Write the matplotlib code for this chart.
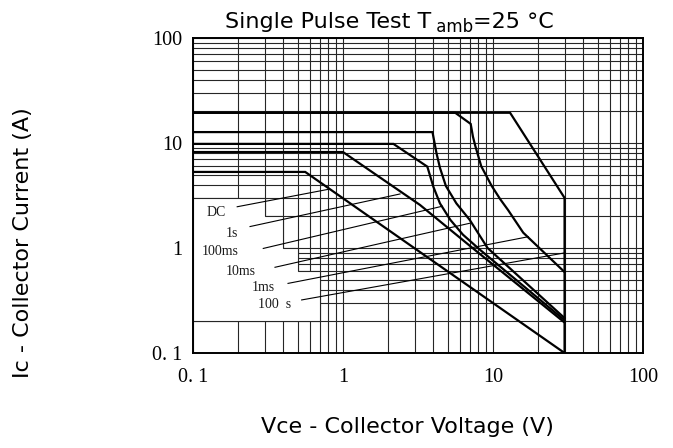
import matplotlib
matplotlib.use("Agg")
import matplotlib.pyplot as plt
from matplotlib.patches import Polygon
from matplotlib.ticker import NullFormatter

# Curvas SOA (Vce en V, Ic en A)
dc_v = [0.1, 0.56, 30]
dc_i = [5.3, 5.3, 0.1]

s1_v = [0.1, 1.0, 3.26, 7.3, 30]
s1_i = [8.2, 8.2, 2.57, 1.0, 0.195]

ms100_v = [0.1, 2.17, 3.65, 4.0, 4.43, 5.2, 6.3, 8.2, 30]
ms100_i = [9.8, 9.8, 5.95, 3.84, 2.66, 1.85, 1.34, 0.96, 0.205]

ms10_v = [0.1, 3.95, 4.05, 4.2, 4.43, 4.85, 5.7, 7.0, 9.2, 30]
ms10_i = [12.7, 12.7, 10.5, 8.0, 5.8, 3.9, 2.66, 1.85, 1.0, 0.215]

ms1_v = [0.1, 5.6, 7.1, 7.35, 7.6, 8.35, 9.8, 11.2, 12.6, 15.9, 30]
ms1_i = [19.4, 19.4, 15.2, 11.5, 9.5, 6.0, 3.9, 2.9, 2.3, 1.4, 0.59]

us100_v = [0.1, 13, 30, 30]
us100_i = [19.4, 19.4, 3.0, 0.1]

# Etiquetas y lineas guia
etiquetas = ["DC", "1s", "100ms", "10ms", "1ms", "100  s"]
etq_x = [0.142, 0.182, 0.151, 0.208, 0.294, 0.352]
etq_y = [2.19, 1.36, 0.93, 0.60, 0.416, 0.288]
guia_x0 = [0.197, 0.24, 0.294, 0.352, 0.43, 0.53]
guia_y0 = [2.47, 1.6, 0.99, 0.655, 0.46, 0.32]
guia_x1 = [0.798, 2.4, 4.6, 7.0, 17.2, 30.3]
guia_y1 = [3.62, 3.27, 2.5, 1.72, 1.28, 0.9]

ticks = [0.1, 1, 10, 100]
tick_labels = ["0. 1", "1", "10", "100"]

fig = plt.figure(figsize=(6.73, 4.48), dpi=100)
ax = fig.add_axes([0.2868, 0.2121, 0.6686, 0.7031])
ax.set_xscale("log")
ax.set_yscale("log")
ax.set_xlim(0.1, 100)
ax.set_ylim(0.1, 100)

ax.set_axisbelow(True)
ax.grid(which="both", color="0.15", lw=0.8)

# zona blanca para las etiquetas
mascara = Polygon([(0.1, 0.2), (0.7, 0.2), (0.7, 0.6), (0.5, 0.6), (0.5, 1),
                   (0.4, 1), (0.4, 2), (0.3, 2), (0.3, 3), (0.1, 3)],
                  closed=True, facecolor="white", edgecolor="0.15", lw=0.8, zorder=1)
ax.add_patch(mascara)

for v, i in [(dc_v, dc_i), (s1_v, s1_i), (ms100_v, ms100_i),
             (ms10_v, ms10_i), (ms1_v, ms1_i), (us100_v, us100_i)]:
    ax.plot(v, i, color="black", lw=1.6, zorder=3, solid_joinstyle="miter")

for k in range(len(etiquetas)):
    ax.plot([guia_x0[k], guia_x1[k]], [guia_y0[k], guia_y1[k]], color="black", lw=0.8, zorder=3)
    ax.text(etq_x[k], etq_y[k], etiquetas[k], ha="center", va="center",
            family="Liberation Serif", fontsize=10, color="0.1", zorder=4)

ax.set_xticks(ticks)
ax.set_xticklabels(tick_labels)
ax.set_yticks(ticks)
ax.set_yticklabels(tick_labels)
ax.xaxis.set_minor_formatter(NullFormatter())
ax.yaxis.set_minor_formatter(NullFormatter())
ax.tick_params(which="both", length=0)
ax.tick_params(axis="x", pad=11)
ax.tick_params(axis="y", pad=8)
for lab in ax.get_xticklabels() + ax.get_yticklabels():
    lab.set_family("Liberation Serif")
    lab.set_fontsize(14.5)
for s in ax.spines.values():
    s.set_linewidth(1.4)
    s.set_zorder(5)

# Titulo con subindice
t1 = ax.text(0.334, 0.9375, "Single Pulse Test T", transform=fig.transFigure,
             ha="left", va="baseline", family="DejaVu Sans", fontsize=16)
t2 = ax.annotate(" amb", xy=(1, 0), xycoords=t1, ha="left", va="baseline",
                 family="DejaVu Sans", fontsize=12, annotation_clip=False)
ax.annotate("=25 °C", xy=(1, 0), xycoords=(t2, t1), ha="left", va="bottom",
            family="DejaVu Sans", fontsize=16, annotation_clip=False)

fig.text(0.605, 0.047, "Vce - Collector Voltage (V)", ha="center", va="center",
         family="DejaVu Sans", fontsize=16)
fig.text(0.034, 0.458, "Ic - Collector Current (A)", ha="center", va="center",
         rotation=90, family="DejaVu Sans", fontsize=16)

plt.savefig("out.png", dpi=100)
